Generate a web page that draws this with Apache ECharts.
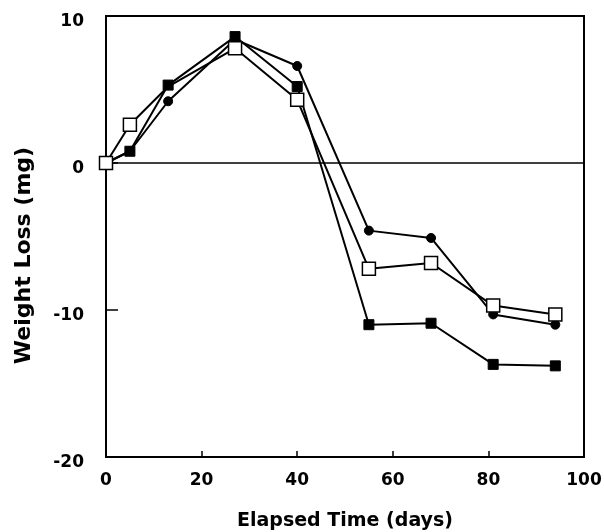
<!DOCTYPE html>
<html>
<head>
<meta charset="utf-8">
<script src="https://cdn.jsdelivr.net/npm/echarts@6/dist/echarts.min.js"></script>
<style>html,body{margin:0;padding:0;background:#fff;}#c{width:604px;height:532px;}</style>
</head>
<body>
<div id="c"></div>
<script>
var openDays   = [0, 5, 13, 27, 40, 55, 68, 81, 94];
var openLoss   = [0, 2.6, 5.2, 7.8, 4.3, -7.2, -6.8, -9.7, -10.3];
var circleDays = [0, 5, 13, 27, 40, 55, 68, 81, 94];
var circleLoss = [0, 0.8, 4.2, 8.4, 6.6, -4.6, -5.1, -10.3, -11.0];
var squareDays = [0, 5, 13, 27, 40, 55, 68, 81, 94];
var squareLoss = [0, 0.8, 5.3, 8.6, 5.2, -11.0, -10.9, -13.7, -13.8];
var xTicks = [0, 20, 40, 60, 80, 100];
var yTicks = [-20, -10, 0, 10];
var xTitle = 'Elapsed Time (days)';
var yTitle = 'Weight Loss (mg)';

function pairs(xs, ys) { return xs.map(function (x, i) { return [x, ys[i]]; }); }

// open markers are drawn on top, except where a filled square sits on them (day > 0)
function openSize(value) {
  for (var i = 0; i < squareDays.length; i++) {
    if (squareDays[i] === value[0] && value[0] > 0 && Math.abs(squareLoss[i] - value[1]) < 0.5) return 0;
  }
  return 13;
}

var font = 'DejaVu Sans';
var labelStyle = { fontFamily: font, fontWeight: 'bold', fontSize: 17, color: '#000' };
var chart = echarts.init(document.getElementById('c'), null, { renderer: 'canvas' });
chart.setOption({
  animation: false,
  backgroundColor: '#fff',
  grid: { left: 106, top: 16, width: 478, height: 441, outerBoundsMode: 'none', containLabel: false,
          show: true, borderColor: '#000', borderWidth: 2, backgroundColor: 'transparent' },
  xAxis: {
    type: 'value', min: xTicks[0], max: xTicks[xTicks.length - 1], interval: 20,
    name: xTitle, nameLocation: 'middle', nameGap: 55,
    nameTextStyle: { fontFamily: font, fontWeight: 'bold', fontSize: 19, color: '#000' },
    axisLine: { show: true, onZero: false, lineStyle: { color: '#000', width: 2 } },
    axisTick: { show: true, inside: true, length: 6, lineStyle: { color: '#000', width: 1.5 } },
    axisLabel: { margin: 15, fontFamily: font, fontWeight: 'bold', fontSize: 17, color: '#000' },
    splitLine: { show: false }
  },
  yAxis: {
    type: 'value', min: yTicks[0], max: yTicks[yTicks.length - 1], interval: 10,
    name: yTitle, nameLocation: 'middle', nameGap: 71,
    nameTextStyle: { fontFamily: font, fontWeight: 'bold', fontSize: 22, color: '#000', padding: [0, 38, 0, 0] },
    axisLine: { show: true, onZero: false, lineStyle: { color: '#000', width: 2 } },
    axisTick: { show: true, inside: true, length: 12, lineStyle: { color: '#000', width: 1.5 } },
    axisLabel: {
      margin: 22, formatter: '{a|{value}}',
      rich: { a: { fontFamily: font, fontWeight: 'bold', fontSize: 17, color: '#000', padding: [11, 0, 0, 0] } }
    },
    splitLine: { show: false }
  },
  series: [
    {
      name: 'circle', type: 'line', data: pairs(circleDays, circleLoss), z: 3,
      symbol: 'circle', symbolSize: 9, showSymbol: true,
      lineStyle: { color: '#000', width: 2 },
      itemStyle: { color: '#000', borderColor: '#000', borderWidth: 1 },
      markLine: {
        silent: true, symbol: 'none', label: { show: false },
        lineStyle: { color: '#000', width: 1.5, type: 'solid' },
        data: [{ yAxis: 0 }]
      }
    },
    {
      name: 'square', type: 'line', data: pairs(squareDays, squareLoss), z: 4,
      symbol: 'rect', symbolSize: 10, showSymbol: true,
      lineStyle: { color: '#000', width: 2 },
      itemStyle: { color: '#000', borderColor: '#000', borderWidth: 1 }
    },
    {
      name: 'open', type: 'line', data: pairs(openDays, openLoss), z: 5,
      symbol: 'rect', symbolSize: openSize, showSymbol: true,
      lineStyle: { color: '#000', width: 2 },
      itemStyle: { color: '#fff', borderColor: '#000', borderWidth: 1.5 }
    }
  ]
});
</script>
</body>
</html>
